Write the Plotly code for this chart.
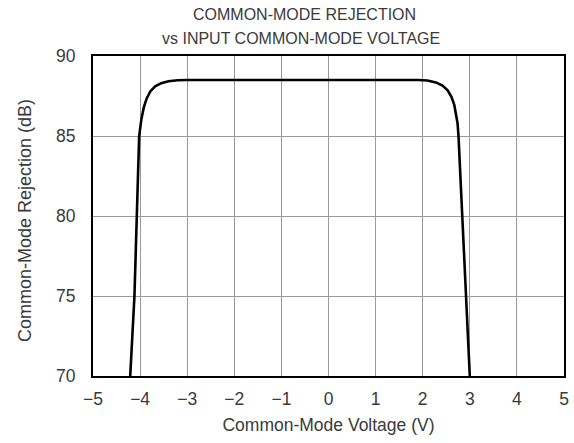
import plotly.graph_objects as go

voltage = [-4.21, -4.12, -4.02, -3.97, -3.92, -3.86, -3.78, -3.68, -3.55, -3.40, -3.20, -3.00,
           1.90, 2.10, 2.28, 2.42, 2.53, 2.61, 2.67, 2.71, 2.74, 2.76, 2.92, 3.00]
cmr_db = [70.0, 75.0, 85.0, 86.1, 86.8, 87.35, 87.8, 88.1, 88.3, 88.42, 88.48, 88.5,
          88.5, 88.47, 88.35, 88.15, 87.85, 87.45, 86.95, 86.4, 85.8, 85.0, 75.0, 70.0]

x_ticks = [-5, -4, -3, -2, -1, 0, 1, 2, 3, 4, 5]
y_ticks = [70, 75, 80, 85, 90]

fig = go.Figure()
fig.add_trace(go.Scatter(x=voltage, y=cmr_db, mode="lines",
                         line=dict(color="black", width=2.6), showlegend=False))

font = "Liberation Sans, Arial, sans-serif"
M_L, M_R, M_T, M_B = 93, 10, 56, 67
W, H = 574, 443
plot_h = H - M_T - M_B
plot_w = W - M_L - M_R

def px_x(p):
    return (p - M_L) / plot_w

def px_y(p):
    return 1 - (p - M_T) / plot_h

fig.update_layout(
    width=W, height=H,
    margin=dict(l=M_L, r=M_R, t=M_T, b=M_B, autoexpand=False),
    paper_bgcolor="white", plot_bgcolor="white",
    font=dict(family=font, color="#3a3a3a", size=17),
    xaxis=dict(range=[-5, 5], tickvals=x_ticks, showgrid=True, gridcolor="#9a9a9a", gridwidth=1,
               zeroline=False, showline=True, linecolor="black", linewidth=2, mirror=True,
               ticks="", ticklabelstandoff=6, tickfont=dict(size=17.5),
               title=dict(text="Common-Mode Voltage (V)", font=dict(size=17.5), standoff=11)),
    yaxis=dict(range=[70, 90], tickvals=y_ticks, showgrid=True, gridcolor="#9a9a9a", gridwidth=1,
               zeroline=False, showline=True, linecolor="black", linewidth=2, mirror=True,
               ticks="", ticklabelstandoff=12, tickfont=dict(size=17.5)),
)
for text, cx, cy in [("COMMON-MODE REJECTION", 304, 15),
                     ("vs INPUT COMMON-MODE VOLTAGE", 301, 38)]:
    fig.add_annotation(text=text, x=px_x(cx), y=px_y(cy), xref="paper", yref="paper",
                       xanchor="center", yanchor="middle", showarrow=False, font=dict(size=16))
fig.add_annotation(text="Common-Mode Rejection (dB)", x=px_x(25), y=px_y(221), xref="paper", yref="paper",
                   xanchor="center", yanchor="middle", textangle=-90, showarrow=False, font=dict(size=18))

fig.write_html("out.html", config={"displayModeBar": False},
               post_script="document.body.style.margin='0';document.body.style.padding='0';")
